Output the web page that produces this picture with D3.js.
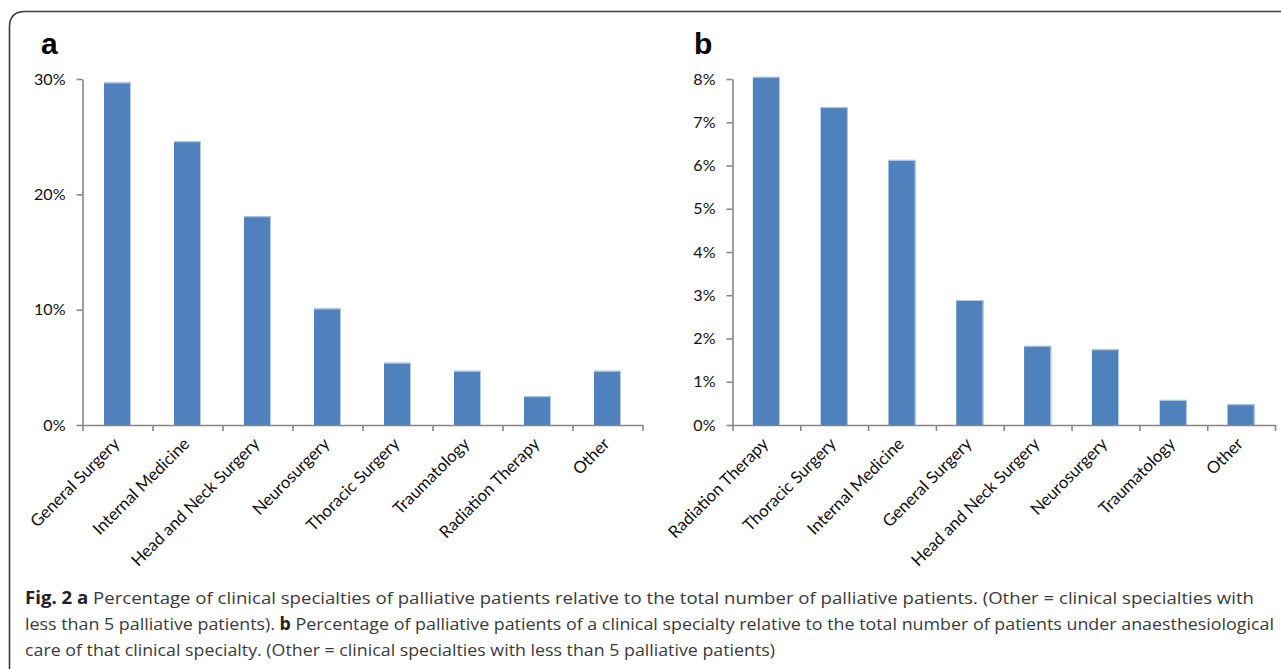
<!DOCTYPE html>
<html>
<head>
<meta charset="utf-8">
<script src="https://cdn.jsdelivr.net/npm/d3@7"></script>
<style>
  html, body { margin: 0; padding: 0; background: #fff; }
  svg { display: block; }
</style>
</head>
<body>
<svg id="chart" width="1281" height="669"></svg>
<script>
// ---- data ----
const catsA = ["General Surgery", "Internal Medicine", "Head and Neck Surgery", "Neurosurgery",
               "Thoracic Surgery", "Traumatology", "Radiation Therapy", "Other"];
const valsA = [29.7, 24.6, 18.1, 10.1, 5.4, 4.7, 2.5, 4.7];
const ticksA = [0, 10, 20, 30];

const catsB = ["Radiation Therapy", "Thoracic Surgery", "Internal Medicine", "General Surgery",
               "Head and Neck Surgery", "Neurosurgery", "Traumatology", "Other"];
const valsB = [8.05, 7.35, 6.13, 2.89, 1.83, 1.75, 0.58, 0.48];
const ticksB = [0, 1, 2, 3, 4, 5, 6, 7, 8];

const captionLines = [
  [{t: "Fig. 2 a", b: true}, {t: " Percentage of clinical specialties of palliative patients relative to the total number of palliative patients. (Other = clinical specialties with"}],
  [{t: "less than 5 palliative patients). "}, {t: "b", b: true}, {t: " Percentage of palliative patients of a clinical specialty relative to the total number of patients under anaesthesiological"}],
  [{t: "care of that clinical specialty. (Other = clinical specialties with less than 5 palliative patients)"}]
];
const captionWidths = [1229, 1249, 750];

// ---- drawing ----
const svg = d3.select("#chart");
const AXIS = "#878787";
const BAR = "#4F81BD";
const FONT = "Lato, 'Open Sans', sans-serif";

// font size that gives a sample string a target width (to mimic Calibri metrics)
function fitSize(sample, target, family) {
  const t = svg.append("text").attr("font-family", family).attr("font-size", 100).text(sample);
  const w = t.node().getComputedTextLength();
  t.remove();
  return 100 * target / w;
}
const TICK_FS = fitSize("30%", 31.5, FONT);
const CAT_FS = fitSize("General Surgery", 118, FONT);

// frame
svg.append("path")
  .attr("d", "M9.5,680 L9.5,27 Q9.5,11.5 25,11.5 L1290,11.5")
  .attr("fill", "none").attr("stroke", "#3a3a3a").attr("stroke-width", 1.6);

function panel(cats, vals, ticks, opt) {
  const g = svg.append("g");
  const y = d3.scaleLinear().domain([0, ticks[ticks.length - 1]]).range([425, 79]);
  const x = d3.scaleBand().domain(cats).range([opt.x0, opt.x1]).paddingInner(opt.pad).paddingOuter(opt.pad / 2);
  const xb = d3.scaleLinear().domain([0, cats.length]).range([opt.x0, opt.x1]);

  // bars
  g.selectAll("rect.bar").data(cats).join("rect")
    .attr("class", "bar")
    .attr("x", d => x(d))
    .attr("width", x.bandwidth())
    .attr("y", (d, i) => y(vals[i]))
    .attr("height", (d, i) => y(0) - y(vals[i]))
    .attr("fill", BAR);
  g.selectAll("path.edge").data(cats).join("path")
    .attr("class", "edge")
    .attr("d", (d, i) => `M${x(d)},${y(vals[i]) + 0.5} H${x(d) + x.bandwidth() - 0.5} V${y(0)}`)
    .attr("fill", "none").attr("stroke", "#b9cde5").attr("stroke-width", 1);

  // y axis
  const ya = g.append("g").attr("transform", `translate(${opt.x0},0)`)
    .call(d3.axisLeft(y).tickValues(ticks).tickFormat(d => d + "%").tickSize(6).tickSizeOuter(0).tickPadding(11));
  ya.select(".domain").attr("stroke", AXIS).attr("stroke-width", 1.6);
  ya.selectAll(".tick line").attr("stroke", AXIS).attr("stroke-width", 1.6);
  ya.selectAll(".tick text").attr("font-family", FONT).attr("font-size", TICK_FS).attr("fill", "#111");

  // x axis (ticks on category boundaries)
  const xa = g.append("g").attr("transform", `translate(0,${y(0)})`)
    .call(d3.axisBottom(xb).tickValues(d3.range(cats.length + 1)).tickFormat("").tickSize(6).tickSizeOuter(0));
  xa.select(".domain").attr("stroke", AXIS).attr("stroke-width", 1.6);
  xa.selectAll(".tick line").attr("stroke", AXIS).attr("stroke-width", 1.6);

  // category labels
  g.selectAll("text.cat").data(cats).join("text")
    .attr("class", "cat")
    .attr("transform", d => `translate(${x(d) + x.bandwidth() / 2 + 3},${y(0) + 20}) rotate(-45)`)
    .attr("text-anchor", "end")
    .attr("font-family", FONT).attr("font-size", CAT_FS).attr("fill", "#111")
    .text(d => d);

  // panel letter
  svg.append("text").attr("x", opt.lx).attr("y", 54)
    .attr("font-family", "'Liberation Sans', Arial, sans-serif").attr("font-weight", "bold")
    .attr("font-size", 30).attr("fill", "#000").text(opt.letter);
}

panel(catsA, valsA, ticksA, {x0: 82.5, x1: 642.5, pad: 0.614, letter: "a", lx: 41});
panel(catsB, valsB, ticksB, {x0: 732.5, x1: 1275, pad: 0.60, letter: "b", lx: 694});

// caption
captionLines.forEach((line, i) => {
  const t = svg.append("text")
    .attr("x", 25).attr("y", 604 + i * 26)
    .attr("font-family", "'Open Sans', sans-serif").attr("font-size", 17)
    .attr("fill", "#3a3a3a")
    .attr("textLength", captionWidths[i]).attr("lengthAdjust", "spacingAndGlyphs");
  line.forEach(p => {
    t.append("tspan").attr("font-weight", p.b ? "bold" : "normal")
      .attr("fill", p.b ? "#222" : "#3a3a3a").text(p.t);
  });
});
</script>
</body>
</html>
